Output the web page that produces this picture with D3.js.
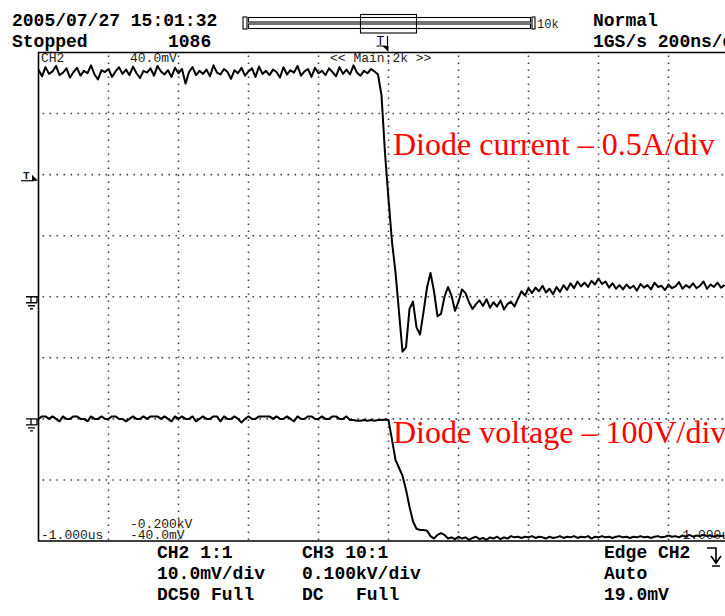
<!DOCTYPE html>
<html>
<head>
<meta charset="utf-8">
<script src="https://cdn.jsdelivr.net/npm/d3@7"></script>
<style>
  body { margin: 0; background: #fff; overflow: hidden; }
  .hdr { font-family: "Liberation Mono", "DejaVu Sans Mono", monospace; font-weight: bold; font-size: 18px; fill: #000; }
  .small { font-family: "Liberation Mono", "DejaVu Sans Mono", monospace; font-size: 13px; fill: #222; }
  .note { font-family: "Liberation Serif", "Times New Roman", serif; font-size: 32px; fill: #ff0000; }
  .grid { stroke: #444; stroke-width: 1.6; stroke-dasharray: 1.6 5.4; }
  .trace { fill: none; stroke: #000; stroke-width: 2; stroke-linejoin: round; }
</style>
</head>
<body>
<script>
var w = 725;
var h = 616;

// sample timing (microseconds)
var t0 = -1.0;
var dt = 0.01;

// CH2 : diode current, mV (10 mV/div)
var ch2 = [
  37.2, 36.1, 37.6, 36.5, 36.9, 37.8, 36.3, 36.7, 37.4, 35.9,
  36.8, 37.5, 36.2, 37.0, 36.6, 37.9, 36.4, 35.6, 37.1, 36.8,
  37.3, 36.0, 36.9, 37.6, 36.5, 37.2, 36.3, 37.7, 36.6, 35.8,
  37.0, 36.7, 37.4, 36.2, 37.8, 36.9, 36.4, 37.1, 36.0, 37.5,
  36.6, 37.3, 34.9, 36.8, 37.6, 36.3, 37.0, 36.5, 37.2, 36.1,
  37.9, 36.7, 36.4, 37.3, 36.8, 35.7, 37.1, 36.6, 37.5, 36.2,
  36.9, 37.4, 36.0, 37.7, 36.5, 37.0, 36.3, 37.2, 36.8, 35.9,
  37.6, 36.4, 37.1, 36.7, 37.8, 36.2, 36.9, 37.3, 36.0, 37.5,
  36.6, 37.0, 36.3, 37.4, 36.8, 36.1, 37.6, 36.5, 37.2, 36.4,
  37.9, 36.7, 36.2, 37.0, 36.6, 37.3, 36.9,
  36.4, 33.0, 23.5, 16.0, 9.0, 4.0, -2.5, -9.0, -8.3, -2.0,
  -0.8, -5.0, -6.2, -2.5, 1.5, 3.9, 0.9, -3.2, -2.8, 0.0,
  1.6, 0.2, -2.3, -0.8, 1.2, 0.6, -0.9, -2.0, -1.2, -0.6,
  -1.5, -0.4, -1.8, -0.9, -1.6, -0.6, -2.1, -1.2, -0.8, -1.6,
  -0.3, 0.9, 0.2, 1.4, 0.6, 1.5, 0.9, 1.8, 0.7, 1.3,
  0.4, 1.6, 0.8, 1.9, 1.1, 2.2, 1.4, 2.5, 1.7, 2.3,
  1.6, 2.6, 2.0, 3.0, 2.1, 2.5, 1.5, 2.2, 1.3, 1.9,
  1.2, 2.0, 1.4, 1.8, 1.0, 2.1, 1.5, 1.9, 1.2, 2.3,
  1.6, 1.8, 1.1, 2.0, 1.4, 1.7, 2.4, 1.3, 1.9, 1.5,
  2.2, 1.4, 1.8, 2.5, 1.3, 2.0, 1.6, 2.3, 1.5, 1.9
];

// CH3 : diode voltage, kV (0.1 kV/div)
var ch3 = [
  0, 0.004, 0.004, 0, 0.004, 0, -0.004, 0.004, 0, 0,
  0.004, 0.004, 0, 0, -0.004, 0.004, 0, 0, 0.004, 0,
  0, 0.004, 0.004, 0, 0, -0.004, 0, 0.004, 0, 0,
  0.004, 0, 0.004, 0.004, 0.004, 0, 0.004, 0, -0.004, 0.004,
  0, 0.004, 0, 0, 0.004, -0.004, 0, 0.004, 0, 0,
  0.004, 0.004, -0.004, 0.004, 0, 0, 0.004, 0, -0.006, 0,
  0.004, 0, 0, 0.004, 0.004, 0.004, 0.004, 0, 0.004, 0,
  0, 0.004, 0, -0.004, 0.004, 0, 0, 0.004, 0.004, 0,
  0, 0.004, 0, 0, 0.004, 0.004, 0, 0, 0.004, -0.002,
  -0.002, -0.003, -0.003, -0.002, -0.003, -0.002, -0.003, -0.002, -0.002, -0.001,
  -0.002, -0.034, -0.067, -0.080, -0.093, -0.116, -0.144, -0.168, -0.180, -0.182,
  -0.182, -0.183, -0.192, -0.196, -0.190, -0.187, -0.190, -0.196, -0.194, -0.197,
  -0.193, -0.196, -0.194, -0.198, -0.195, -0.193, -0.197, -0.195, -0.198, -0.194,
  -0.196, -0.193, -0.197, -0.194, -0.196, -0.192, -0.194, -0.193, -0.195, -0.193,
  -0.194, -0.192, -0.195, -0.193, -0.194, -0.196, -0.193, -0.195, -0.194, -0.192,
  -0.195, -0.193, -0.194, -0.192, -0.195, -0.193, -0.194, -0.192, -0.196, -0.193,
  -0.194, -0.192, -0.194, -0.193, -0.195, -0.193, -0.192, -0.194, -0.193, -0.195,
  -0.193, -0.194, -0.192, -0.194, -0.193, -0.195, -0.193, -0.192, -0.194, -0.193,
  -0.191, -0.193, -0.192, -0.194, -0.191, -0.193, -0.190, -0.193, -0.191, -0.192,
  -0.190, -0.192, -0.191, -0.193, -0.191, -0.192, -0.191
];

var headerLeft = [['2005/07/27 15:01:32', 12, 26], ['Stopped', 12, 47], ['1086', 168, 47]];
var headerRight = [['Normal', 593, 26], ['1GS/s 200ns/div', 593, 47]];
var footer = [
  ['CH2 1:1', 'CH3 10:1', 'Edge CH2'],
  ['10.0mV/div', '0.100kV/div', 'Auto'],
  ['DC50 Full', 'DC   Full', '19.0mV']
];
var notes = ['Diode current \u2013 0.5A/div', 'Diode voltage \u2013 100V/div'];

var pL = 38.5, pR = 738.5, pT = 52.5, pB = 541;

var x = d3.scaleLinear().domain([-1, 1]).range([pL, pR]);
var y2 = d3.scaleLinear().domain([-40, 40]).range([pB, pT]);
var y3 = d3.scaleLinear().domain([-0.2, 0.6]).range([pB, pT]);

var svg = d3.select('body').append('svg')
  .attr('width', w)
  .attr('height', h);

// grid
svg.append('g').selectAll('line')
  .data(x.ticks(10).slice(1, -1))
  .enter().append('line')
  .attr('class', 'grid')
  .attr('x1', d => x(d)).attr('x2', d => x(d))
  .attr('y1', pT + 3).attr('y2', pB);

svg.append('g').selectAll('line')
  .data(y2.ticks(8).slice(1, -1))
  .enter().append('line')
  .attr('class', 'grid')
  .attr('x1', pL + 4).attr('x2', pR)
  .attr('y1', d => y2(d)).attr('y2', d => y2(d));

// frame
svg.append('path')
  .attr('d', `M${pR},${pT}H${pL}V${pB}H${pR}`)
  .attr('fill', 'none').attr('stroke', '#000').attr('stroke-width', 1.6);

// in-frame labels
svg.append('text').attr('class', 'small').attr('x', 41).attr('y', 62).text('CH2');
svg.append('text').attr('class', 'small').attr('x', 130).attr('y', 62).text('40.0mV');
svg.append('text').attr('class', 'small').attr('x', 330).attr('y', 62).text('<< Main:2k >>');
svg.append('text').attr('class', 'small').attr('x', 41).attr('y', 539).text('-1.000us');
svg.append('text').attr('class', 'small').attr('x', 130).attr('y', 528).text('-0.200kV');
svg.append('text').attr('class', 'small').attr('x', 130).attr('y', 539).text('-40.0mV');
svg.append('text').attr('class', 'small').attr('x', 737).attr('y', 539)
  .attr('text-anchor', 'end').text('1.000us');

// traces
var line2 = d3.line().x((d, i) => x(t0 + i * dt)).y(d => y2(d));
var line3 = d3.line().x((d, i) => x(t0 + i * dt)).y(d => y3(d));
svg.append('path').attr('class', 'trace').attr('d', line2(ch2));
svg.append('path').attr('class', 'trace').attr('d', line3(ch3));

// ground markers
function ground(yy) {
  var g = svg.append('g').attr('stroke', '#000').attr('stroke-width', 1.3).attr('fill', 'none');
  g.append('path').attr('d', `M26,${yy}H${pL}M31,${yy}V${yy + 6}M37,${yy}V${yy + 6}M26,${yy + 6}H37M28,${yy + 9}H35M30,${yy + 12}H33`);
}
ground(y2(0));
ground(y3(0));

// trigger level marker
var ty = y2(19);
svg.append('text').attr('class', 'small').attr('x', 23).attr('y', ty - 2)
  .style('font-weight', 'bold').style('font-size', '11px').text('T');
svg.append('path').attr('d', `M21,${ty}H34`).attr('stroke', '#000').attr('stroke-width', 1.2);
svg.append('path').attr('d', `M32,${ty - 6}L38,${ty}L32,${ty}Z`).attr('fill', '#000');

// header
svg.selectAll('text.hl').data(headerLeft.concat(headerRight)).enter().append('text')
  .attr('class', 'hdr').attr('x', d => d[1]).attr('y', d => d[2]).text(d => d[0]);

// record-length bar
var bar = svg.append('g').attr('fill', 'none').attr('stroke', '#000').attr('stroke-width', 1.1);
bar.append('rect').attr('x', 243).attr('y', 17).attr('width', 4).attr('height', 12);
bar.append('rect').attr('x', 248.5).attr('y', 17.5).attr('width', 282).attr('height', 4.5);
bar.append('rect').attr('x', 248.5).attr('y', 24).attr('width', 282).attr('height', 4.5);
bar.append('rect').attr('x', 532).attr('y', 17).attr('width', 3).attr('height', 12);
bar.append('rect').attr('x', 360.5).attr('y', 14.5).attr('width', 56).attr('height', 18.5);
svg.append('text').attr('class', 'small').attr('x', 537).attr('y', 28).style('font-size', '12px').text('10k');

// trigger position marker
var tx = x(0) - 4;
svg.append('text').attr('class', 'hdr').attr('x', tx - 8).attr('y', 45).style('font-size', '13px').style('font-weight', 'normal').text('T');
svg.append('path').attr('d', `M${tx - 8},46H${tx + 1}M${tx + 3},36V47`).attr('stroke', '#000').attr('stroke-width', 1.2);
svg.append('path').attr('d', `M${tx - 2},46L${tx + 4},46L${tx + 4},52Z`).attr('fill', '#000');

// footer
var fx = [157, 302, 604];
var fy = [558, 579, 600];
footer.forEach(function(row, r) {
  row.forEach(function(s, c) {
    svg.append('text').attr('class', 'hdr').attr('x', fx[c]).attr('y', fy[r])
      .style('white-space', 'pre').attr('xml:space', 'preserve').text(s);
  });
});
// trigger slope symbol
svg.append('path').attr('d', 'M707,548H716V563M711,556L716,563L721,556M712,566H720')
  .attr('fill', 'none').attr('stroke', '#000').attr('stroke-width', 1.6);

// annotations
svg.append('text').attr('class', 'note').attr('x', 393).attr('y', 155).text(notes[0]);
svg.append('text').attr('class', 'note').attr('x', 393).attr('y', 443).text(notes[1]);
</script>
</body>
</html>
